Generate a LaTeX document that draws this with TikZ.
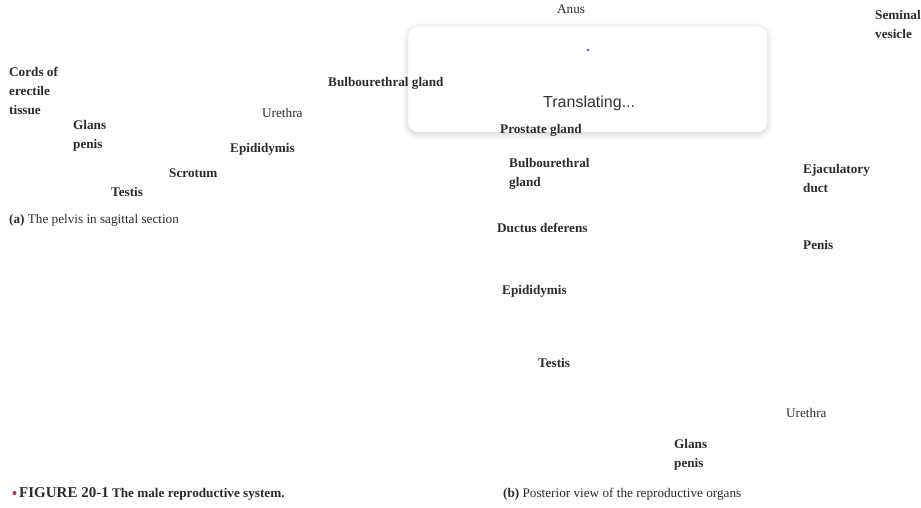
\documentclass[tikz,border=0pt]{standalone}
\usepackage{fontspec}
\setmainfont{Liberation Serif}
\newfontfamily\uisans{Liberation Sans}
\usetikzlibrary{shadows.blur}
\definecolor{labelgray}{HTML}{2B2B2B}
\definecolor{uigray}{HTML}{333333}
\definecolor{dotblue}{HTML}{4A86E8}
\definecolor{bulletred}{HTML}{C0272D}
\tikzset{
  lbl/.style={inner sep=0pt, anchor=base west, text=labelgray, font=\fontsize{13.2pt}{19pt}\selectfont},
  blbl/.style={lbl, font=\fontsize{13.2pt}{19pt}\selectfont\bfseries},
  mlbl/.style={inner sep=0pt, anchor=north west, align=left, text=labelgray, font=\fontsize{13.2pt}{19pt}\selectfont\bfseries},
  overlaybox/.style={fill=white, rounded corners=10pt, draw=black!6, line width=0.4pt,
    blur shadow={shadow xshift=0pt, shadow yshift=-2pt, shadow blur radius=6pt, shadow opacity=20}},
}
\begin{document}
\begin{tikzpicture}[x=1pt, y=-1pt]
\useasboundingbox (0,0) rectangle (921,508);
% overlay
\node[overlaybox, minimum width=359pt, minimum height=106pt, inner sep=0pt, anchor=north west] (panel) at (408,26) {};
\node[circle, fill=dotblue, inner sep=0pt, minimum size=3.2pt] (dot) at (588,50) {};
\node[inner sep=0pt, anchor=base west, text=uigray, font=\uisans\fontsize{16pt}{19pt}\selectfont] (transl) at (543,108) {Translating...};
% panel (a)
\node[mlbl] (cords) at (9,67) {Cords of\\erectile\\tissue};
\node[mlbl] (glansa) at (73,120) {Glans\\penis};
\node[lbl] (urethraa) at (262,118) {Urethra};
\node[blbl] (epia) at (230,153) {Epididymis};
\node[blbl] (scrotum) at (169,178) {Scrotum};
\node[blbl] (testisa) at (111,196) {Testis};
\node[lbl] (capa) at (9,223) {\textbf{(a)} The pelvis in sagittal section};
% panel (b)
\node[lbl] (anus) at (557,14) {Anus};
\node[mlbl] (seminal) at (875,10) {Seminal\\vesicle};
\node[blbl] (bulbo1) at (328,87) {Bulbourethral gland};
\node[blbl] (prostate) at (500,134) {Prostate gland};
\node[mlbl] (bulbo2) at (509,158) {Bulbourethral\\gland};
\node[blbl] (ductus) at (497,232) {Ductus deferens};
\node[mlbl] (ejac) at (803,164) {Ejaculatory\\duct};
\node[blbl] (penis) at (803,249) {Penis};
\node[blbl] (epib) at (502,294) {Epididymis};
\node[blbl] (testisb) at (538,367) {Testis};
\node[lbl] (urethrab) at (786,417) {Urethra};
\node[mlbl] (glansb) at (674,439) {Glans\\penis};
% captions
\node[circle, fill=bulletred, inner sep=0pt, minimum size=4pt] (bullet) at (14.5,493) {};
\node[inner sep=0pt, anchor=base west, text=labelgray, font=\fontsize{13.2pt}{19pt}\selectfont\bfseries] (figcap) at (19,497) {{\fontsize{15pt}{19pt}\selectfont FIGURE 20-1} The male reproductive system.};
\node[lbl] (capb) at (503,497) {\textbf{(b)} Posterior view of the reproductive organs};
\end{tikzpicture}
\end{document}
